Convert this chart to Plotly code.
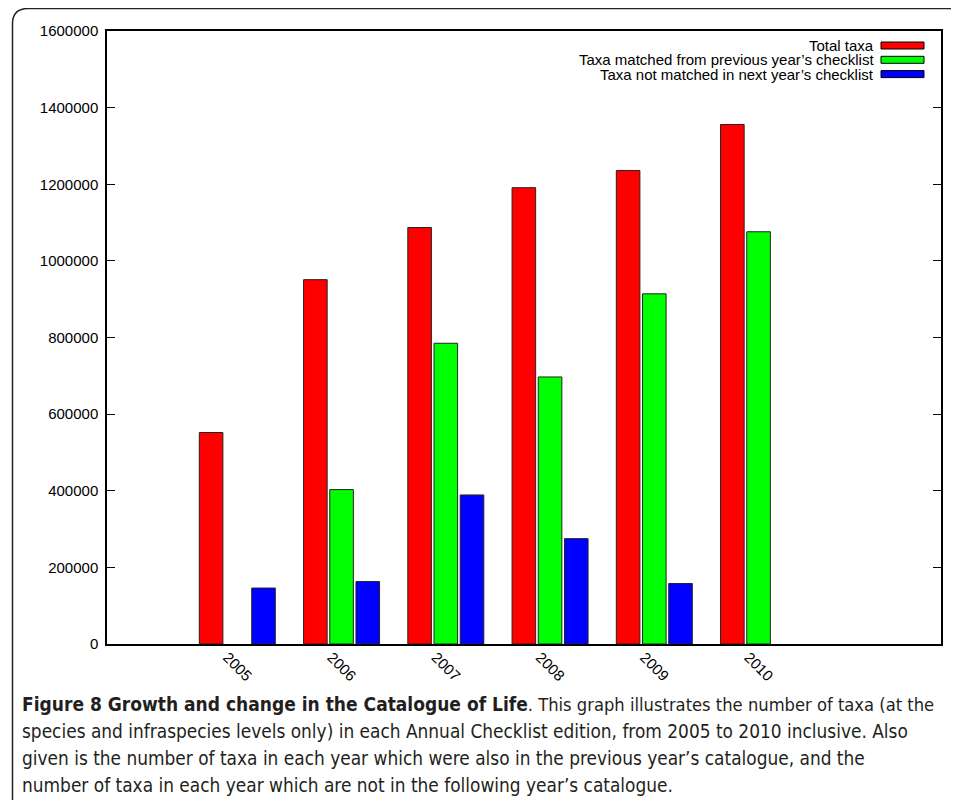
import plotly.graph_objects as go

years = ["2005", "2006", "2007", "2008", "2009", "2010"]
series_names = [
    "Total taxa",
    "Taxa matched from previous year\u2019s checklist",
    "Taxa not matched in next year\u2019s checklist",
]
total_taxa = [552000, 951000, 1087000, 1191000, 1236000, 1356000]
matched_prev = [None, 403000, 785000, 697000, 914000, 1076000]
not_matched_next = [146000, 163000, 389000, 275000, 158000, None]
series_values = [total_taxa, matched_prev, not_matched_next]
series_colors = ["#ff0000", "#00ff00", "#0000ff"]
y_ticks = [0, 200000, 400000, 600000, 800000, 1000000, 1200000, 1400000, 1600000]

caption_bold = "Figure 8 Growth and change in the Catalogue of Life"
caption_lines = [
    ". This graph illustrates the number of taxa (at the",
    "species and infraspecies levels only) in each Annual Checklist edition, from 2005 to 2010 inclusive. Also",
    "given is the number of taxa in each year which were also in the previous year\u2019s catalogue, and the",
    "number of taxa in each year which are not in the following year\u2019s catalogue.",
]

# the page body has an 8px margin; the figure is sized so that it fills the window
OFF = 8
W, H = 959 - OFF, 800 - OFF
ML, MR, MT, MB = 99, 18, 23, 156
PW, PH = W - ML - MR, H - MT - MB


def px(x):
    """window pixel x -> paper"""
    return (x - OFF - ML) / PW


def py(y):
    """window pixel y -> paper"""
    return (H - MB - (y - OFF)) / PH


fig = go.Figure()
for name, vals, col in zip(series_names, series_values, series_colors):
    fig.add_trace(go.Bar(
        x=years, y=vals, name=name,
        marker=dict(color=col, line=dict(color="#222222", width=1)),
        showlegend=False,
    ))

shapes = []
annotations = []
# custom legend (text right-aligned, swatch on the right)
leg_y = [45.5, 59.8, 74.1]
for name, col, yc in zip(series_names, series_colors, leg_y):
    annotations.append(dict(
        x=px(875), y=py(yc), xref="paper", yref="paper",
        xanchor="right", yanchor="middle", showarrow=False, borderpad=0,
        text=name, font=dict(family="Liberation Sans, Arial", size=15, color="#000"),
    ))
    shapes.append(dict(
        type="rect", xref="paper", yref="paper",
        x0=px(881), x1=px(924), y0=py(yc - 3.5), y1=py(yc + 3.5),
        fillcolor=col, line=dict(color="#000", width=1),
    ))

# outer rounded frame
shapes.append(dict(
    type="path", xref="paper", yref="paper",
    path=(f"M {px(12.5)},{py(1000)} L {px(12.5)},{py(24)} "
          f"Q {px(12.5)},{py(8.5)} {px(28)},{py(8.5)} L {px(1200)},{py(8.5)}"),
    line=dict(color="#222222", width=1.5),
))

# caption
cap_font = "Liberation Sans Narrow, DejaVu Sans Condensed, Roboto Condensed, Noto Sans"
cap_y = [704, 731, 758, 785]
for i, (line, yc) in enumerate(zip(caption_lines, cap_y)):
    if i == 0:
        txt = (f"<b><span style='font-size:19px'>{caption_bold}</span></b>"
               f"<span style='font-size:18.2px'>{line}</span>")
    else:
        txt = line
    annotations.append(dict(
        x=px(20), y=py(yc), xref="paper", yref="paper",
        xanchor="left", yanchor="middle", showarrow=False,
        text=txt,
        font=dict(family=cap_font, size=18.9, color="#231f20"),
    ))

fig.update_layout(
    width=W, height=H,
    margin=dict(l=ML, r=MR, t=MT, b=MB),
    paper_bgcolor="white", plot_bgcolor="white",
    barmode="group", bargap=0.246, bargroupgap=0.1,
    shapes=shapes, annotations=annotations,
    font=dict(family="Liberation Sans, Arial", size=15, color="#000"),
    xaxis=dict(
        type="category", range=[-1.25, 6.75],
        showline=True, linecolor="#000", linewidth=1.5, mirror=True,
        ticks="", showgrid=False, tickangle=45,
        tickfont=dict(size=15), ticklabelshift=-10, ticklabelstandoff=-3,
    ),
    yaxis=dict(
        range=[0, 1600000], tickvals=y_ticks, tickformat="d",
        showline=True, linecolor="#000", linewidth=1.5, mirror="ticks",
        ticks="inside", ticklen=8, tickcolor="#000", tickwidth=1,
        showgrid=False, zeroline=False, tickfont=dict(size=15),
        ticklabelstandoff=4,
    ),
)

fig.write_html("out.html")
